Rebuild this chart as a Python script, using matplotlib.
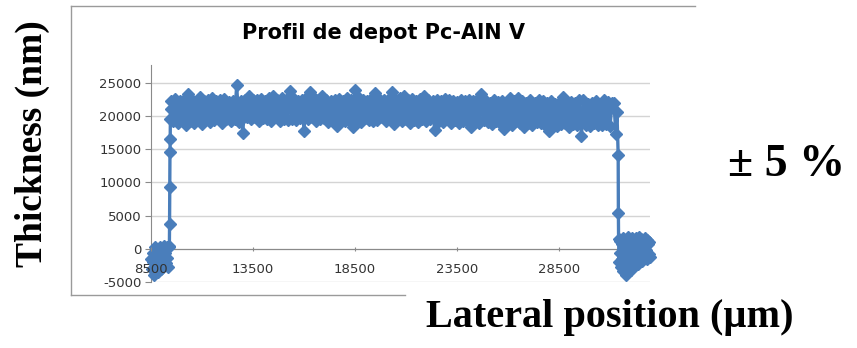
import numpy as np
import matplotlib
matplotlib.use("Agg")
import matplotlib.pyplot as plt
from matplotlib.lines import Line2D

plt.rcParams["path.simplify"] = False

# Profilometer trace of the Pc-AlN V deposit (nm)

# left substrate + step up
left_x = [8500, 8540, 8580, 8620, 8660, 8700, 8740, 8780, 8820, 8860, 8900,
          8940, 8980, 9020, 9060, 9100, 9140, 9180, 9220, 9260, 9300, 9340,
          9380, 9400, 9410, 9420, 9430, 9440, 9450, 9460]
left_y = [-1500, -3000, -600, -2000, -4000, 300, -2800, -1200, -3500, -500,
          -2200, 200, -3000, -1000, -1800, -2500, 400, -600, -2200, 300,
          -1400, -2700, 500, 200, 3700, 9300, 14600, 16600, 19500, 21000]

# film plateau, scan step 100 um
plateau_x = np.arange(9500, 31101, 100)
plateau_y = [22300, 19200, 22600, 18900, 22200, 19400, 22500, 18600, 23300, 19300,
             22400, 19000, 22100, 19500, 22900, 18800, 22300, 19600, 22500, 19100,
             22700, 19400, 22200, 19700, 22400, 19000, 22600, 19500, 22100, 19200,
             22300, 19600, 24700, 19100, 22200, 17500, 22400, 19800, 23000, 19600,
             22500, 19900, 22400, 19200, 22600, 19700, 22300, 19500, 22800, 19300,
             23000, 19800, 22500, 19300, 22700, 19600, 22400, 19400, 23800, 19600,
             22600, 19400, 22200, 19700, 22500, 17800, 22800, 19500, 23700, 19800,
             22700, 19300, 22400, 19600, 23000, 19700, 22500, 19100, 22300, 19500,
             22400, 18500, 22600, 19600, 22200, 19200, 22800, 19400, 22500, 18300,
             24000, 19500, 22700, 19100, 22500, 19700, 22300, 19400, 22600, 19200,
             23500, 19400, 22600, 19800, 22400, 19300, 22500, 19600, 23600, 18800,
             22500, 19500, 22700, 19200, 23000, 19600, 22400, 19000, 22600, 19400,
             22300, 19100, 22600, 19500, 23000, 19300, 22400, 19600, 22200, 17900,
             22500, 19300, 22200, 19100, 22600, 19500, 22500, 18900, 22300, 19400,
             22100, 19000, 22400, 19300, 22200, 19200, 22500, 18300, 22200, 19200,
             22400, 19000, 23300, 19400, 22300, 19100, 22000, 18800, 22400, 19300,
             22100, 19000, 22300, 18000, 22000, 19100, 22700, 18700, 22200, 19200,
             22700, 19000, 22300, 18300, 21900, 19000, 22500, 18600, 22000, 19100,
             22500, 18900, 22200, 18700, 22000, 17800, 22200, 18900, 21800, 18500,
             22000, 18800, 22900, 19000, 21900, 18400, 22100, 18800, 22000, 18600,
             22500, 17000, 22400, 18700, 21800, 18500, 22000, 18900, 22200, 18700,
             21700, 18600, 22400, 18800, 22100, 18500, 21900]

# step down + right substrate
right_x = [31200, 31280, 31340, 31400, 31410, 31420, 31450, 31480, 31510, 31540,
           31570, 31600, 31630, 31660, 31690, 31720, 31750, 31780, 31810, 31840,
           31870, 31900, 31930, 31960, 31990, 32020, 32050, 32080, 32110, 32140,
           32170, 32200, 32230, 32260, 32290, 32320, 32350, 32380, 32410, 32440,
           32470, 32500, 32530, 32560, 32590, 32620, 32650, 32680, 32710, 32740,
           32770, 32800, 32830, 32860, 32890, 32920, 32950]
right_y = [21900, 17300, 20600, 14200, 5400, 1500, -2000, 1200, -600, -2800,
           800, -1500, -3300, 1700, -300, -2400, 1000, -3900, -800, 500,
           -2500, 1800, -1500, 300, 1200, -3200, -700, 1600, -2000, 200,
           900, -2600, -1000, 1700, -1200, 600, 1300, -2300, -200, 1800,
           -900, 700, 1500, -1800, -400, 1000, -1400, 400, 1600, -1000,
           -200, 1400, -1600, 700, -800, 1100, -1200]

x = np.concatenate([left_x, plateau_x, right_x])
y = np.concatenate([left_y, plateau_y, right_y])

yticks = [-5000, 0, 5000, 10000, 15000, 20000, 25000]
xticks = [8500, 13500, 18500, 23500, 28500]

W, H = 857, 348
fig = plt.figure(figsize=(W / 100, H / 100), dpi=100)
ax = fig.add_axes([151 / W, 1 - 282 / H, (650 - 151) / W, (282 - 65) / H])

blue = "#4a7ebb"
ax.plot(x, y, color=blue, lw=2.4, marker="D", markersize=6,
        markerfacecolor=blue, markeredgecolor=blue, clip_on=False, zorder=3)

ax.set_xlim(8500, 32960)
ax.set_ylim(-5000, 27700)
ax.set_yticks(yticks)
ax.set_xticks(xticks)
ax.set_xticklabels([str(v) for v in xticks])
ax.set_yticklabels([str(v) for v in yticks])

ax.grid(axis="y", color="#d4d4d4", lw=1)
ax.set_axisbelow(True)
for s in ["top", "right"]:
    ax.spines[s].set_visible(False)
ax.spines["bottom"].set_position(("data", 0))
ax.spines["bottom"].set_color("#8a8a8a")
ax.spines["left"].set_color("#8a8a8a")
ax.tick_params(axis="y", length=4, color="#8a8a8a", pad=3,
               labelsize=9.5, labelcolor="#333333")
ax.tick_params(axis="x", length=3, direction="inout", color="#8a8a8a", pad=9,
               labelsize=9.5, labelcolor="#333333")
ax.xaxis.set_zorder(5)

fig.text(383 / W, 1 - 33 / H, "Profil de depot Pc-AlN V", ha="center", va="center",
         fontsize=15, fontweight="bold", family="DejaVu Sans")

# chart frame (partly hidden in the slide)
frame = "#9a9a9a"
fig.add_artist(Line2D([71 / W, 695 / W], [1 - 6 / H, 1 - 6 / H], color=frame, lw=1))
fig.add_artist(Line2D([71 / W, 71 / W], [1 - 6 / H, 1 - 295 / H], color=frame, lw=1))
fig.add_artist(Line2D([71 / W, 405 / W], [1 - 295 / H, 1 - 295 / H], color=frame, lw=1))

serif = dict(family="Liberation Serif", fontweight="bold", color="black")
fig.text(32 / W, 1 - 144 / H, "Thickness (nm)", rotation=90, ha="center", va="center",
         fontsize=27, **serif)
fig.text(786 / W, 1 - 165 / H, "± 5 %", ha="center", va="center", fontsize=33, **serif)
fig.text(610 / W, 1 - 318 / H, "Lateral position (µm)", ha="center", va="center",
         fontsize=29, **serif)

fig.savefig("out.png", dpi=100)
